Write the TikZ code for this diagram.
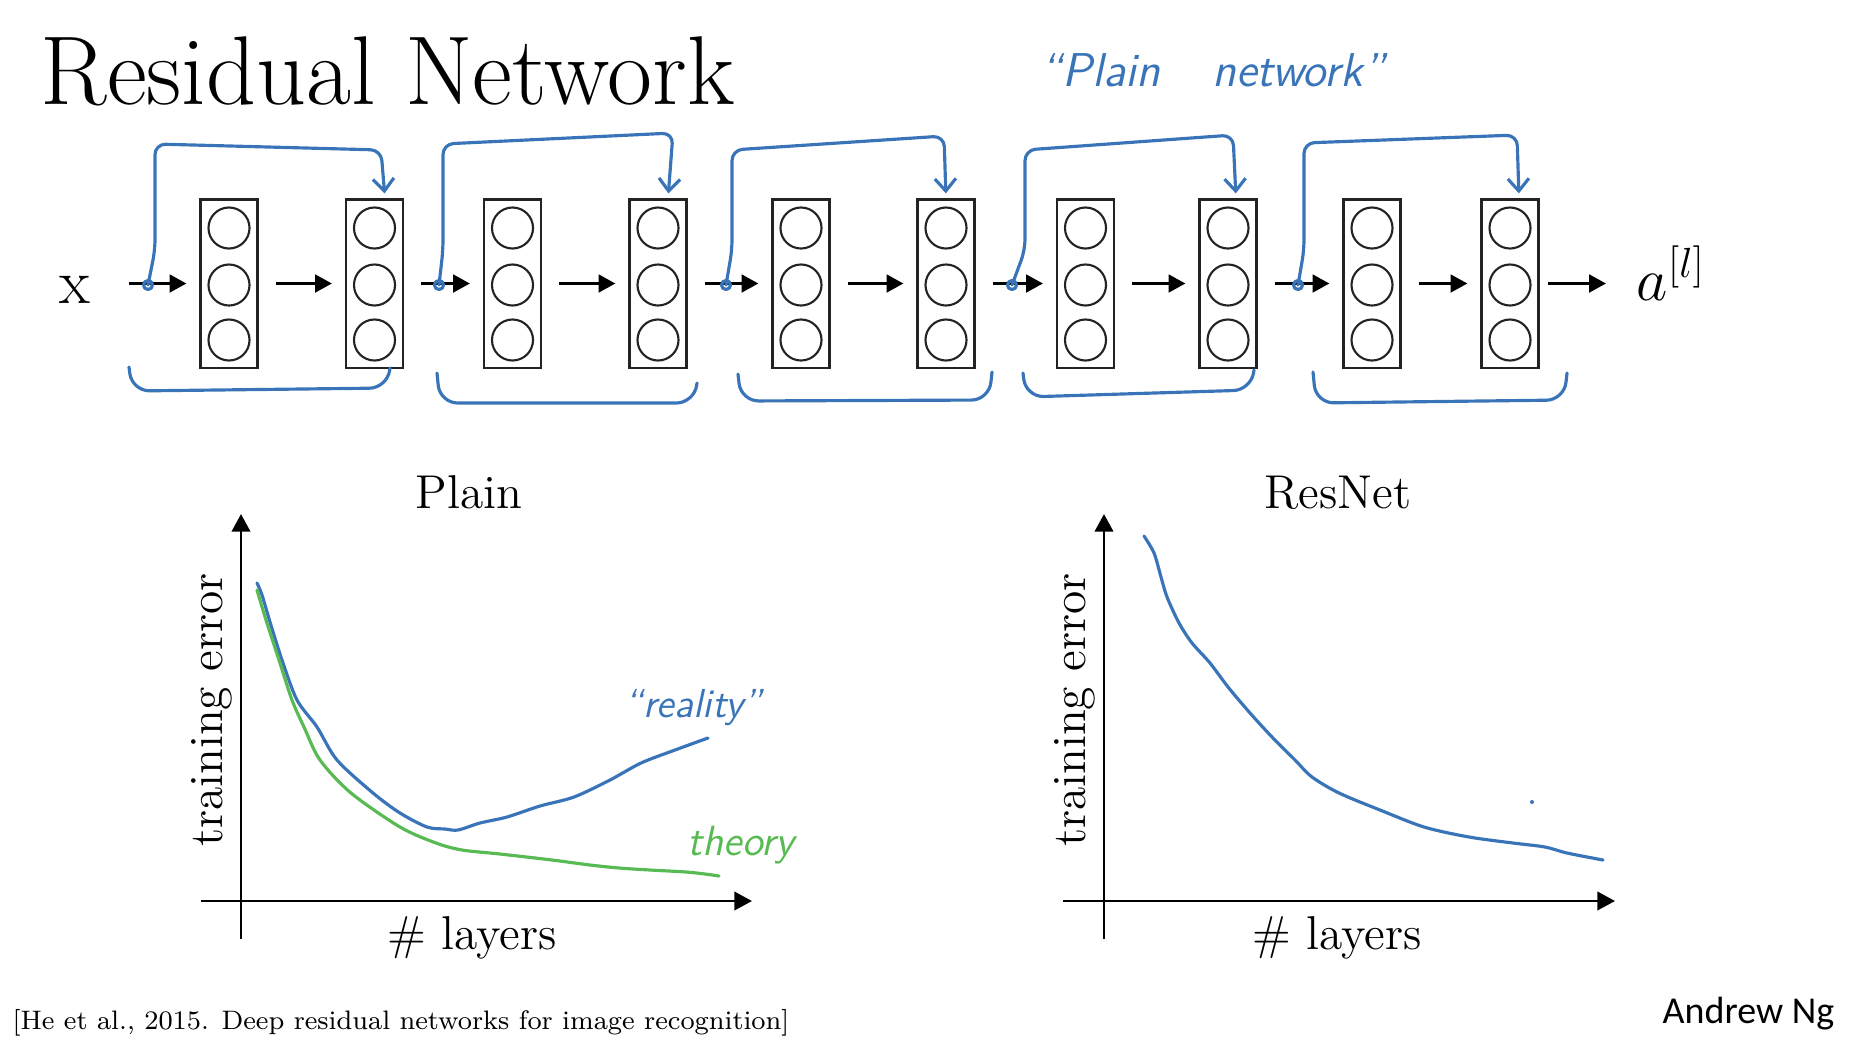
\documentclass[tikz,border=0pt]{standalone}
\usepackage{fontspec}
\newfontfamily\ngfont{Carlito}
\usetikzlibrary{arrows.meta}

\definecolor{handblue}{RGB}{58,116,184}
\definecolor{handgreen}{RGB}{88,186,82}
\definecolor{ink}{RGB}{35,35,35}

\tikzset{
  layer/.style={draw=ink, line width=0.6pt, minimum width=0.57cm, minimum height=1.68cm, inner sep=0pt},
  unit/.style={draw=ink, circle, line width=0.6pt, minimum size=0.41cm, inner sep=0pt},
  fwd/.style={-{Triangle[length=4.8pt,width=5pt]}, line width=0.9pt, shorten <=0.17cm, shorten >=0.13cm},
  skip/.style={handblue, line width=0.9pt, line cap=round, line join=round, rounded corners=3pt},
  barb/.style={-{Straight Barb[length=3.5pt,width=6pt]}},
  brace/.style={handblue, line width=0.9pt, line cap=round, rounded corners=5pt},
  axis/.style={-{Triangle[length=5pt,width=5.2pt]}, line width=0.8pt},
  curve/.style={line width=0.9pt, line cap=round},
  lbl/.style={font=\fontsize{13.5}{16}\selectfont, inner sep=0pt},
  hand/.style={inner sep=0pt, anchor=base west, font=\fontsize{11.5}{13}\selectfont\sffamily\itshape},
}

\begin{document}
\begin{tikzpicture}[x=0.01cm, y=-0.01cm]
  \useasboundingbox (0,0) rectangle (1852,1036);

  \node[anchor=base west, inner sep=0pt, font=\fontsize{27.8}{32}\selectfont] (title) at (40,104) {Residual Network};

  % the ten layers
  \foreach \i/\x in {1/229,2/374.5,3/512.5,4/658,5/801,6/946,7/1085.5,8/1228,9/1372,10/1510}{
    \node[layer] (L\i) at (\x,283.5) {};
    \foreach \j/\y in {1/228,2/285,3/340}
      \node[unit] (L\i-\j) at (\x,\y) {};
  }

  \node[anchor=base, inner sep=0pt, font=\fontsize{18}{22}\selectfont] (x) at (74.5,303) {x};
  \node[anchor=base west, inner sep=0pt, font=\fontsize{18}{22}\selectfont] (out) at (1636,300) {$a^{[l]}$};

  \draw[fwd, shorten <=0.38cm] (x.east |- L1) -- (L1);
  \foreach \i [count=\n from 2] in {1,...,9}
    \draw[fwd] (L\i) -- (L\n);
  \draw[fwd, shorten <=0.08cm, shorten >=0.3cm] (L10) -- (out.west |- L10);

  % skip connections
  \foreach \d/\x in {1/148,2/439,3/726,4/1012,5/1298}{
    \coordinate (d\d) at (\x,285);
    \draw[skip] (d\d) circle (0.045cm);
  }
  \foreach \d/\vx/\tl/\rx/\tr/\t/\sh in {1/155/144/381/150/L2/1.05mm, 2/443/144/673/133/L4/1mm,
      3/732/150/944/136/L6/0mm, 4/1025/150/1233/135/L8/0.8mm, 5/1304/143/1517/135/L10/0.9mm}
    \draw[skip, barb, shorten >=0.05cm] (d\d) -- (\vx,250) -- (\vx,\tl) -- (\rx,\tr) -- ([xshift=\sh]\t.north);

  \foreach \l/\lt/\bl/\br/\r/\rt in {129/367/391/388/390/368, 437/373/403/403/697/383,
      738/374/401/400/992/372, 1023/373/397/390/1254/370, 1313/372/403/400/1567/373}
    \draw[brace] (\l,\lt) -- (\l+3,\bl) -- (\r-3,\br) -- (\r,\rt);

  \node[hand, text=handblue, font=\fontsize{13.5}{16}\selectfont\sffamily\itshape] (plainnote) at (1040,86) {``Plain\hspace{1.1em}network''};

  % plain
  \draw[axis] (201,901) -- (752,901);
  \draw[axis] (241,939) -- (241,514);
  \node[lbl, anchor=base] (plain) at (469,508) {Plain};
  \node[lbl, anchor=base] (layers1) at (472,949) {\# layers};
  \node[lbl, rotate=90] (err1) at (212,710) {training error};
  \draw[curve, handblue] plot[smooth] coordinates {(257,583) (262,595) (270,622) (282,660) (297,700)
    (317,727) (337,760) (373,793) (400,813) (427,827) (445,829) (458,830) (480,823) (507,817) (540,806)
    (574,797) (610,780) (641,763) (675,750) (708,738)};
  \draw[curve, handgreen] plot[smooth] coordinates {(257,590) (266,620) (279,660) (292,700) (304,727)
    (320,760) (351,793) (400,827) (436,843) (462,850) (500,854) (552,860) (590,865) (619,868)
    (650,870) (686,872) (705,874) (719,876)};
  \node[hand, text=handblue] (reality) at (624,717) {``reality''};
  \node[hand, text=handgreen, font=\fontsize{12}{14}\selectfont\sffamily\itshape] (theory) at (687,855) {theory};

  % resnet
  \draw[axis] (1063,901) -- (1615,901);
  \draw[axis] (1104,939) -- (1104,514);
  \node[lbl, anchor=base] (resnet) at (1338,508) {ResNet};
  \node[lbl, anchor=base] (layers2) at (1337,949) {\# layers};
  \node[lbl, rotate=90] (err2) at (1075,710) {training error};
  \draw[curve, handblue] plot[smooth] coordinates {(1144,536) (1154,553) (1161,577) (1167,597) (1179,623)
    (1192,643) (1210,663) (1228,687) (1250,713) (1272,737) (1295,760) (1312,777) (1339,793) (1380,810)
    (1424,827) (1469,837) (1513,843) (1545,847) (1567,853) (1603,860)};
  \fill[handblue] (1532,802) circle (0.02cm);

  \node[anchor=base west, inner sep=0pt, font=\fontsize{7.6}{9}\selectfont] (cite) at (12,1029) {[He et al., 2015. Deep residual networks for image recognition]};
  \node[anchor=base west, inner sep=0pt, font=\fontsize{10.8}{13}\ngfont] (author) at (1662,1023) {Andrew Ng};
\end{tikzpicture}
\end{document}
